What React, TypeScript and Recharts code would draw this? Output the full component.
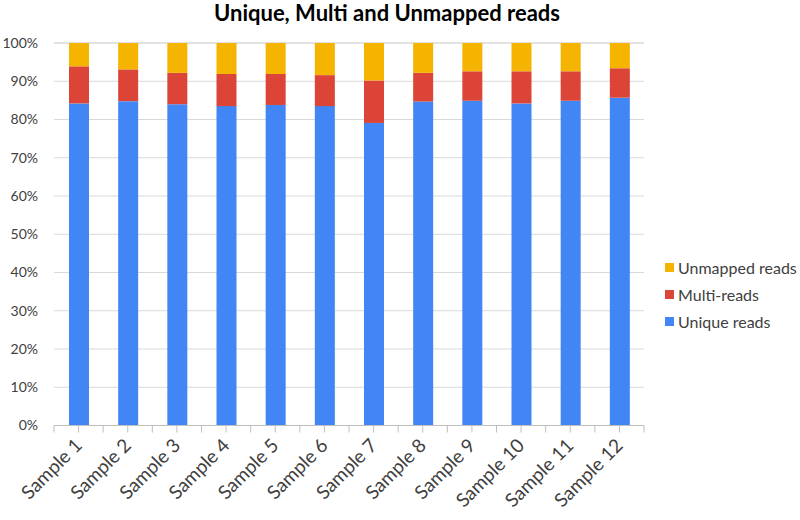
import React from 'react';
import { Bar, BarChart, CartesianGrid, XAxis, YAxis } from 'recharts';

// values (percent of reads per sample)
const samples = [
  'Sample 1', 'Sample 2', 'Sample 3', 'Sample 4', 'Sample 5', 'Sample 6',
  'Sample 7', 'Sample 8', 'Sample 9', 'Sample 10', 'Sample 11', 'Sample 12',
];
const uniqueReads = [84.2, 84.8, 84.0, 83.5, 83.8, 83.5, 79.1, 84.7, 84.9, 84.2, 84.9, 85.7];
const multiReads = [9.7, 8.3, 8.2, 8.4, 8.1, 8.1, 11.1, 7.5, 7.7, 8.4, 7.7, 7.7];
const unmappedReads = [6.1, 6.9, 7.8, 8.1, 8.1, 8.4, 9.8, 7.8, 7.4, 7.4, 7.4, 6.6];
const yTicks = [0, 10, 20, 30, 40, 50, 60, 70, 80, 90, 100];

const data = samples.map((name, i) => ({
  name,
  unique: uniqueReads[i],
  multi: multiReads[i],
  unmapped: unmappedReads[i],
}));

const FONT = 'Lato, "Open Sans", sans-serif';
const AXIS = '#BFBFBF';

const legendItems = [
  { label: 'Unmapped reads', color: '#F4B400' },
  { label: 'Multi-reads', color: '#DB4437' },
  { label: 'Unique reads', color: '#4285F4' },
];

// x tick: label rotated -45deg plus tick marks at center and category edges
const SampleTick = (props: any) => {
  const { x, y, payload, index } = props;
  const step = 590 / samples.length;
  return (
    <g>
      <line x1={x} x2={x} y1={y - 8} y2={y - 1} stroke={AXIS} />
      <line x1={x - step / 2} x2={x - step / 2} y1={y - 8} y2={y - 1} stroke={AXIS} />
      {index === samples.length - 1 && (
        <line x1={x + step / 2} x2={x + step / 2} y1={y - 8} y2={y - 1} stroke={AXIS} />
      )}
      <text
        x={x}
        y={y}
        transform={`rotate(-45 ${x} ${y})`}
        textAnchor="end"
        dominantBaseline="central"
        fontSize={19}
        fontFamily={FONT}
        fill="#404040"
        dx={-6}
        dy={5}
      >
        {payload.value}
      </text>
    </g>
  );
};

const LegendBox = () => (
  <div
    style={{
      position: 'absolute',
      left: 665,
      top: 254,
      fontFamily: FONT,
      fontSize: 16,
      color: '#404040',
    }}
  >
    {legendItems.map((it) => (
      <div key={it.label} style={{ display: 'flex', alignItems: 'center', height: 27, whiteSpace: 'nowrap' }}>
        <span style={{ width: 9, height: 9, background: it.color, marginRight: 4 }} />
        {it.label}
      </div>
    ))}
  </div>
);

export default function App() {
  return (
    <div style={{ position: 'absolute', left: 0, top: 0, width: 800, height: 520, background: '#fff', overflow: 'hidden' }}>
      <div
        style={{
          position: 'absolute',
          left: 0,
          width: 774,
          top: 0,
          textAlign: 'center',
          fontFamily: FONT,
          fontWeight: 700,
          fontSize: 22,
          color: '#000',
          lineHeight: '26px',
        }}
      >
        Unique, Multi and Unmapped reads
      </div>
      <BarChart
        width={800}
        height={520}
        data={data}
        margin={{ top: 43, right: 156, left: 0, bottom: 0 }}
        barSize={20}
      >
        <CartesianGrid vertical={false} stroke="#D9D9D9" />
        <XAxis
          dataKey="name"
          height={94.5}
          interval={0}
          axisLine={{ stroke: AXIS }}
          tickLine={false}
          tick={<SampleTick />}
        />
        <YAxis
          width={54}
          domain={[0, 100]}
          ticks={yTicks}
          axisLine={false}
          tickLine={false}
          tickMargin={10}
          tickFormatter={(v) => `${v}%`}
          tick={{ fontSize: 14, fontFamily: FONT, fill: '#404040' }}
        />
        <Bar dataKey="unique" stackId="a" fill="#4285F4" isAnimationActive={false} />
        <Bar dataKey="multi" stackId="a" fill="#DB4437" isAnimationActive={false} />
        <Bar dataKey="unmapped" stackId="a" fill="#F4B400" isAnimationActive={false} />
      </BarChart>
      <LegendBox />
    </div>
  );
}
